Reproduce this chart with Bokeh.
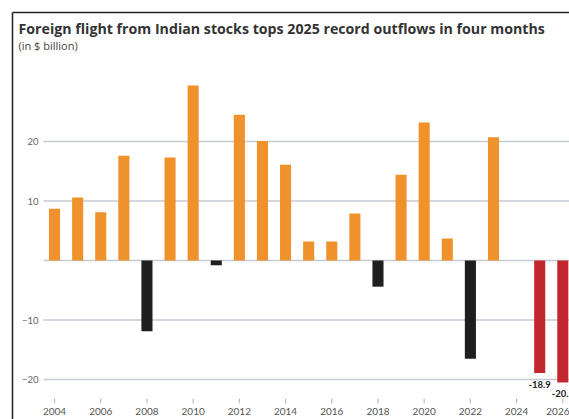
from bokeh.plotting import figure
from bokeh.models import ColumnDataSource, FixedTicker, Range1d, LinearAxis, Label
from bokeh.core.properties import value
from bokeh.embed import file_html
from bokeh.resources import INLINE

# ---- data ----
years = [2004, 2005, 2006, 2007, 2008, 2009, 2010, 2011, 2012, 2013, 2014,
         2015, 2016, 2017, 2018, 2019, 2020, 2021, 2022, 2023, 2024, 2025, 2026]
flows = [8.7, 10.6, 8.1, 17.6, -11.9, 17.3, 29.4, -0.8, 24.5, 20.1, 16.1,
         3.2, 3.2, 7.9, -4.4, 14.4, 23.2, 3.7, -16.5, 20.7, 0.0, -18.9, -20.5]
highlight_years = [2025, 2026]
label_texts = ["-18.9", "-20.5"]
y_ticks = [-20, -10, 10, 20]
grid_vals = [-20, -10, 0, 10, 20]
x_ticks = [2004, 2006, 2008, 2010, 2012, 2014, 2016, 2018, 2020, 2022, 2024, 2026]

TITLE = "Foreign flight from Indian stocks tops 2025 record outflows in four months"
SUBTITLE = "(in $ billion)"

ORANGE = "#F0922B"
BLACK = "#1f1f1f"
RED = "#C1272D"

colors = []
for y, v in zip(years, flows):
    if y in highlight_years:
        colors.append(RED)
    elif v >= 0:
        colors.append(ORANGE)
    else:
        colors.append(BLACK)

src = ColumnDataSource(dict(x=years, top=flows, color=colors))

x_start, x_end = 2002.18, 2026.29
y_start, y_end = -26.72, 41.68
p = figure(width=569, height=419, output_backend="svg", toolbar_location=None,
           x_range=Range1d(x_start, x_end), y_range=Range1d(y_start, y_end),
           min_border_left=12, min_border_top=12, min_border_right=0,
           min_border_bottom=0, x_axis_location=None, y_axis_location=None)
p.outline_line_color = None
p.background_fill_color = "white"
p.border_fill_color = "white"
p.xgrid.visible = False
p.ygrid.visible = False

# grid lines (start to the right of the y labels)
grid_x0 = 2003.52
p.segment(x0=[grid_x0] * len(grid_vals), x1=[x_end] * len(grid_vals),
          y0=grid_vals, y1=grid_vals, line_color="#c6cbd3", line_width=1.3)

p.vbar(x="x", top="top", bottom=0, width=0.48, source=src,
       fill_color="color", line_color=None)

# small year tick marks just above the year labels
tick_y0, tick_y1 = -23.2, -24.0
p.segment(x0=x_ticks, x1=x_ticks, y0=[tick_y0] * len(x_ticks),
          y1=[tick_y1] * len(x_ticks), line_color="#bdbdbd", line_width=1.2)

# value labels for highlighted years
hl_src = ColumnDataSource(dict(
    x=highlight_years,
    y=[flows[years.index(y)] for y in highlight_years],
    t=label_texts))
p.text(x="x", y="y", text="t", source=hl_src, text_align="center",
       text_baseline="top", y_offset=8, text_font=value("Lato"),
       text_font_style="bold", text_font_size="9.5px", text_color="#222222")

# left axis: black frame line with labels inside
yax = LinearAxis(ticker=FixedTicker(ticks=y_ticks))
yax.axis_line_color = "#222222"
yax.axis_line_width = 1.5
yax.major_tick_in = 0
yax.major_tick_out = 0
yax.minor_tick_line_color = None
yax.major_label_standoff = -26
yax.major_label_text_font = "Lato"
yax.major_label_text_font_size = "9.5px"
yax.major_label_text_color = "#666666"
p.add_layout(yax, "left")

# top axis: just a black line
tax = LinearAxis(ticker=FixedTicker(ticks=[]))
tax.axis_line_color = "#222222"
tax.axis_line_width = 1.5
tax.major_tick_in = 0
tax.major_tick_out = 0
tax.minor_tick_line_color = None
tax.major_label_text_font_size = "0px"
tax.major_label_standoff = 0
p.add_layout(tax, "above")

# bottom axis: year labels, drawn inside the frame at the bottom edge
xax = LinearAxis(ticker=FixedTicker(ticks=x_ticks))
xax.axis_line_color = None
xax.major_tick_in = 0
xax.major_tick_out = 0
xax.minor_tick_line_color = None
xax.major_label_standoff = -12
xax.major_label_text_font = "Lato"
xax.major_label_text_font_size = "10px"
xax.major_label_text_color = "#555555"
p.add_layout(xax, "below")

# title and subtitle
p.add_layout(Label(x=6, y=391, x_units="screen", y_units="screen", text=TITLE,
                   text_font="Open Sans", text_font_style="bold", text_font_size="14.2px",
                   text_color="#333333", text_baseline="alphabetic"))
p.add_layout(Label(x=6, y=374, x_units="screen", y_units="screen", text=SUBTITLE,
                   text_font="Open Sans", text_font_size="11px",
                   text_color="#444444", text_baseline="alphabetic"))

open("out.html", "w").write(file_html(p, INLINE))
